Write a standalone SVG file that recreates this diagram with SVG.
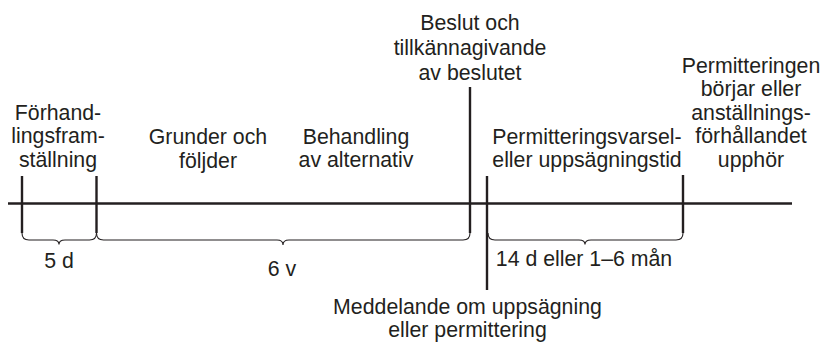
<svg xmlns="http://www.w3.org/2000/svg" width="822" height="342" viewBox="0 0 822 342">
<style>
text{font-family:"Liberation Sans",Arial,sans-serif;font-size:21.3px;fill:#231f20;text-anchor:middle}
.axis{stroke:#231f20;stroke-width:2.6;fill:none}
.tick{stroke:#231f20;stroke-width:2.4;fill:none}
.brace{stroke:#231f20;stroke-width:1.1;fill:none}
</style>
<rect width="822" height="342" fill="#ffffff"/>
<g id="connectors">
<line class="axis" x1="8" y1="203.5" x2="792" y2="203.5"/>
<line class="tick" x1="22" y1="176" x2="22" y2="233"/>
<line class="tick" x1="96.5" y1="176" x2="96.5" y2="233"/>
<line class="tick" x1="470" y1="87" x2="470" y2="233"/>
<line class="tick" x1="487" y1="176" x2="487" y2="290"/>
<line class="tick" x1="683" y1="175" x2="683" y2="233"/>
<path class="brace" d="M22,233 Q22,240 29,240 H53 Q59,240 59,244.5 Q59,240 65,240 H89.5 Q96.5,240 96.5,233"/>
<path class="brace" d="M96.5,233 Q96.5,240 103.5,240 H277 Q283,240 283,245 Q283,240 289,240 H463 Q470,240 470,233"/>
<path class="brace" d="M488,233 Q488,240 495,240 H579 Q585,240 585,244.5 Q585,240 591,240 H676 Q683,240 683,233"/>
</g>
<g id="forhandlingsframstallning">
<text x="58" y="119.5">Förhand-</text>
<text x="58" y="143">lingsfram-</text>
<text x="58" y="166.5">ställning</text>
</g>
<g id="grunder">
<text x="208" y="144">Grunder och</text>
<text x="208" y="167.5">följder</text>
</g>
<g id="behandling">
<text x="356" y="143.5">Behandling</text>
<text x="356" y="167">av alternativ</text>
</g>
<g id="beslut">
<text x="470" y="29.5">Beslut och</text>
<text x="470" y="54.5">tillkännagivande</text>
<text x="470" y="79.5">av beslutet</text>
</g>
<g id="varseltid">
<text x="587" y="144">Permitteringsvarsel-</text>
<text x="587" y="166.5">eller uppsägningstid</text>
</g>
<g id="permitteringen">
<text x="751" y="72.5">Permitteringen</text>
<text x="751" y="96">börjar eller</text>
<text x="751" y="119.5">anställnings-</text>
<text x="751" y="143">förhållandet</text>
<text x="751" y="166.5">upphör</text>
</g>
<g id="d5"><text x="59" y="268">5 d</text></g>
<g id="v6"><text x="282" y="276">6 v</text></g>
<g id="d14"><text x="584" y="266">14 d eller 1–6 mån</text></g>
<g id="meddelande">
<text x="467.5" y="313.5">Meddelande om uppsägning</text>
<text x="467.5" y="337">eller permittering</text>
</g>
</svg>
